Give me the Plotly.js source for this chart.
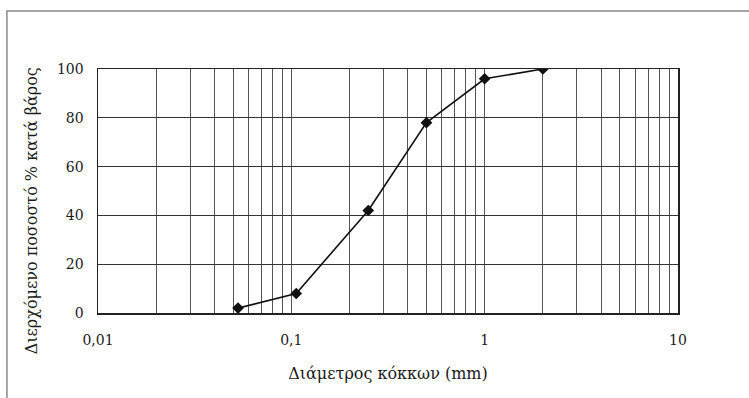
<!DOCTYPE html>
<html>
<head>
<meta charset="utf-8">
<script src="https://cdn.plot.ly/plotly-3.0.1.min.js"></script>
<style>html,body{margin:0;padding:0;background:#fff;}#chart{width:749px;height:398px;}</style>
</head>
<body>
<div id="chart"></div>
<script>
// Data
const diameters = [0.053, 0.106, 0.25, 0.5, 1, 2];
const passing = [2, 8, 42, 78, 96, 100];

// Log grid tick positions (1..9 per decade) and labels (decades only)
const xTickVals = [0.01,0.02,0.03,0.04,0.05,0.06,0.07,0.08,0.09,
                   0.1,0.2,0.3,0.4,0.5,0.6,0.7,0.8,0.9,
                   1,2,3,4,5,6,7,8,9,10];
const xTickText = ['0,01','','','','','','','','',
                   '0,1','','','','','','','','',
                   '1','','','','','','','','','10'];
const yTickVals = [0, 20, 40, 60, 80, 100];

const xTitle = 'Διάμετρος κόκκων (mm)';
const yTitle = 'Διερχόμενο ποσοστό % κατά βάρος';

const trace = {
  x: diameters,
  y: passing,
  type: 'scatter',
  mode: 'lines+markers',
  line: {color: '#111', width: 1.6},
  marker: {symbol: 'diamond', size: 9, color: '#111'},
  showlegend: false,
  hoverinfo: 'skip'
};

const tickFont = {family: '"DejaVu Serif", "Liberation Serif", serif', color: '#1a1a1a', size: 14};
const titleFont = {family: '"DejaVu Serif", "Liberation Serif", serif', color: '#1a1a1a', size: 16};

const layout = {
  width: 749, height: 398,
  margin: {l: 98, r: 71, t: 69, b: 85},
  paper_bgcolor: '#fff',
  plot_bgcolor: '#fff',
  font: tickFont,
  xaxis: {
    type: 'log',
    range: [-2, 1],
    tickmode: 'array',
    tickvals: xTickVals,
    ticktext: xTickText,
    showgrid: true,
    gridcolor: '#555',
    gridwidth: 1,
    showline: true, mirror: true, linecolor: '#222', linewidth: 1.5,
    ticks: 'outside', ticklen: 14, tickcolor: 'rgba(0,0,0,0)',
    zeroline: false,
    tickfont: tickFont,
    title: {text: xTitle, font: titleFont, standoff: 20}
  },
  yaxis: {
    range: [0, 100],
    tickmode: 'array',
    tickvals: yTickVals,
    showgrid: true,
    gridcolor: '#333',
    gridwidth: 1,
    showline: true, mirror: true, linecolor: '#222', linewidth: 1.5,
    ticks: 'outside', ticklen: 10, tickcolor: 'rgba(0,0,0,0)',
    zeroline: false,
    tickfont: tickFont
  },
  annotations: [{
    text: yTitle, textangle: -90,
    xref: 'paper', yref: 'paper',
    x: -0.115, y: 0.418,
    xanchor: 'center', yanchor: 'middle',
    showarrow: false,
    font: titleFont
  }],
  shapes: [{
    type: 'rect', xref: 'paper', yref: 'paper',
    x0: -0.157, x1: 1.16, y0: -0.4, y1: 1.238,
    line: {color: '#888', width: 1.5}
  }]
};

Plotly.newPlot('chart', [trace], layout, {staticPlot: true, displayModeBar: false});
</script>
</body>
</html>
